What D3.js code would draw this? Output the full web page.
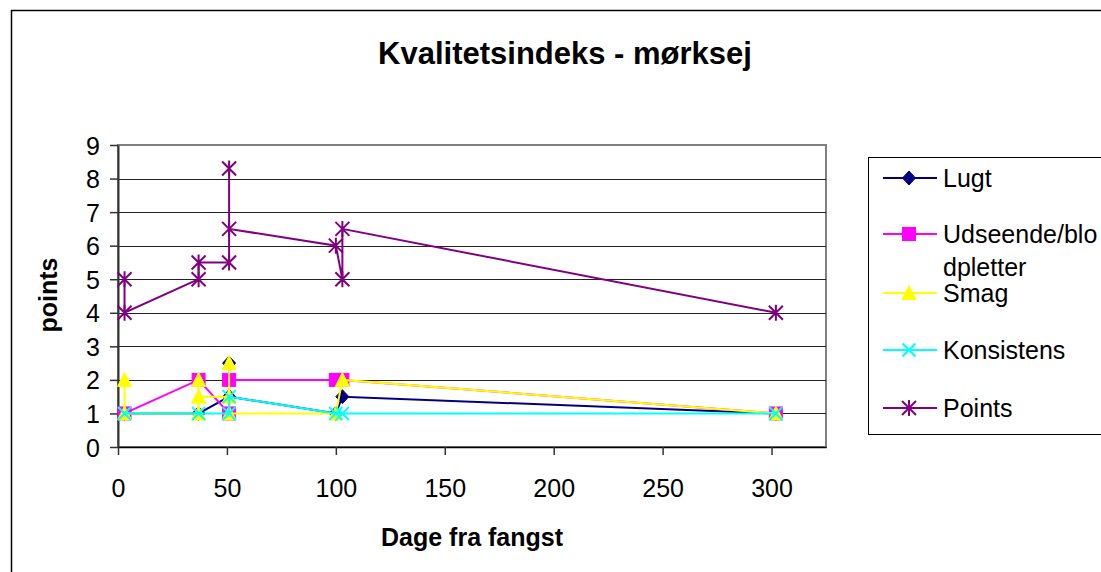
<!DOCTYPE html>
<html><head><meta charset="utf-8">
<script src="https://cdn.jsdelivr.net/npm/d3@7"></script>
<style>html,body{margin:0;padding:0;background:#fff;overflow:hidden}svg{display:block;font-family:"Liberation Sans",Arial,sans-serif}</style>
</head><body>
<svg id="c" width="1101" height="572"></svg>
<script>
const title = "Kvalitetsindeks - mørksej";
const xTitle = "Dage fra fangst";
const yTitle = "points";
const xTicks = [0, 50, 100, 150, 200, 250, 300];
const yTicks = [0, 1, 2, 3, 4, 5, 6, 7, 8, 9];

const seriesNames = ["Lugt", "Udseende/blodpletter", "Smag", "Konsistens", "Points"];
const lugtX = [3, 37, 51, 51, 51, 100, 103, 302];
const lugtY = [1, 1, 1.5, 2.5, 1.5, 1, 1.5, 1];
const udseendeX = [3, 37, 51, 51, 100, 103, 302];
const udseendeY = [1, 2, 1, 2, 2, 2, 1];
const smagX = [3, 3, 37, 37, 37, 51, 51, 51, 100, 103, 302];
const smagY = [2, 1, 1, 2, 1.5, 1.5, 2.5, 1, 1, 2, 1];
const konsistensX = [3, 37, 51, 51, 100, 103, 302];
const konsistensY = [1, 1, 1, 1.5, 1, 1, 1];
const pointsX = [3, 3, 37, 37, 51, 51, 51, 100, 103, 103, 302];
const pointsY = [5, 4, 5, 5.5, 5.5, 8.3, 6.5, 6, 5, 6.5, 4];

const colors = ["#000080", "#FF00FF", "#FFFF00", "#00FFFF", "#800080"];
const markers = ["diamond", "square", "triangle", "cross", "star"];
const xs = [lugtX, udseendeX, smagX, konsistensX, pointsX];
const ys = [lugtY, udseendeY, smagY, konsistensY, pointsY];

const svg = d3.select("#c");
const x = d3.scaleLinear().domain([0, 325]).range([118, 826]);
const y = d3.scaleLinear().domain([0, 9]).range([447, 145]);

// chart area border
svg.append("rect").attr("x", 11.5).attr("y", 10.5).attr("width", 1200).attr("height", 700)
  .attr("fill", "#fff").attr("stroke", "#000").attr("stroke-width", 1.5);

// title
svg.append("text").attr("x", 565).attr("y", 64).attr("text-anchor", "middle")
  .attr("font-size", 31).attr("font-weight", "bold").text(title);

// plot area
svg.append("rect").attr("x", x(0)).attr("y", y(9)).attr("width", x(325) - x(0)).attr("height", y(0) - y(9))
  .attr("fill", "#fff").attr("stroke", "#808080").attr("stroke-width", 2);

// gridlines
svg.append("g").selectAll("line").data(yTicks.filter(d => d > 0 && d < 9)).join("line")
  .attr("x1", x(0)).attr("x2", x(325)).attr("y1", d => Math.round(y(d)) + 0.5).attr("y2", d => Math.round(y(d)) + 0.5)
  .attr("stroke", "#222").attr("stroke-width", 1.2);

// axes
const xAxis = svg.append("g").attr("transform", `translate(0,${y(0)})`)
  .call(d3.axisBottom(x).tickValues(xTicks).tickSize(8).tickSizeOuter(0).tickPadding(24));
xAxis.select(".domain").attr("stroke", "#000").attr("stroke-width", 1.5);
xAxis.selectAll(".tick line").attr("stroke", "#333").attr("stroke-width", 1.5);
xAxis.selectAll("text").attr("font-size", 25).attr("fill", "#000").attr("font-family", "Liberation Sans, Arial, sans-serif");

const yAxis = svg.append("g").attr("transform", `translate(${x(0)},0)`)
  .call(d3.axisLeft(y).tickValues(yTicks).tickSize(8).tickSizeOuter(0).tickPadding(10));
yAxis.select(".domain").attr("stroke", "#333").attr("stroke-width", 2);
yAxis.selectAll(".tick line").attr("stroke", "#333").attr("stroke-width", 1.5);
yAxis.selectAll("text").attr("font-size", 25).attr("fill", "#000").attr("dy", "0.36em").attr("font-family", "Liberation Sans, Arial, sans-serif");

// axis titles
svg.append("text").attr("x", 472).attr("y", 546).attr("text-anchor", "middle")
  .attr("font-size", 25).attr("font-weight", "bold").text(xTitle);
svg.append("text").attr("transform", "translate(57,295) rotate(-90)").attr("text-anchor", "middle")
  .attr("font-size", 25).attr("font-weight", "bold").text(yTitle);

function drawMarker(g, type, cx, cy, color) {
  const s = 6.5;
  if (type === "diamond") {
    g.append("path").attr("d", `M${cx},${cy - s - 0.5}L${cx + s},${cy}L${cx},${cy + s + 0.5}L${cx - s},${cy}Z`)
      .attr("fill", color).attr("stroke", color).attr("stroke-width", 1);
  } else if (type === "square") {
    g.append("rect").attr("x", cx - s).attr("y", cy - s).attr("width", 2 * s).attr("height", 2 * s)
      .attr("fill", color).attr("stroke", color).attr("stroke-width", 1);
  } else if (type === "triangle") {
    g.append("path").attr("d", `M${cx},${cy - s - 1}L${cx + s + 0.5},${cy + s}L${cx - s - 0.5},${cy + s}Z`)
      .attr("fill", color).attr("stroke", color).attr("stroke-width", 1);
  } else if (type === "cross") {
    g.append("path").attr("d", `M${cx - s},${cy - s}L${cx + s},${cy + s}M${cx - s},${cy + s}L${cx + s},${cy - s}`)
      .attr("fill", "none").attr("stroke", color).attr("stroke-width", 2);
  } else if (type === "star") {
    const t = 7;
    g.append("path").attr("d", `M${cx - t},${cy - t}L${cx + t},${cy + t}M${cx - t},${cy + t}L${cx + t},${cy - t}M${cx},${cy - t - 1}L${cx},${cy + t + 1}`)
      .attr("fill", "none").attr("stroke", color).attr("stroke-width", 2);
  }
}

const line = d3.line().x(d => x(d[0])).y(d => y(d[1]));
const plot = svg.append("g");
seriesNames.forEach((name, i) => {
  const pts = xs[i].map((v, j) => [v, ys[i][j]]);
  const g = plot.append("g");
  g.append("path").datum(pts).attr("d", line).attr("fill", "none")
    .attr("stroke", colors[i]).attr("stroke-width", 2);
  pts.forEach(p => drawMarker(g, markers[i], x(p[0]), y(p[1]), colors[i]));
});

// legend
const lg = svg.append("g");
lg.append("rect").attr("x", 868.5).attr("y", 157.5).attr("width", 400).attr("height", 277)
  .attr("fill", "#fff").attr("stroke", "#000").attr("stroke-width", 1);
const legendY = [178, 234, 293, 350, 408];
seriesNames.forEach((name, i) => {
  const cy = legendY[i];
  lg.append("line").attr("x1", 883).attr("x2", 937).attr("y1", cy).attr("y2", cy)
    .attr("stroke", colors[i]).attr("stroke-width", 2);
  drawMarker(lg, markers[i], 909, cy, colors[i]);
  const t = lg.append("text").attr("x", 943).attr("y", cy + 9).attr("font-size", 25);
  if (i === 1) {
    t.append("tspan").attr("x", 943).text("Udseende/blo");
    t.append("tspan").attr("x", 943).attr("dy", 33).text("dpletter");
  } else {
    t.text(name);
  }
});
</script>
</body></html>
